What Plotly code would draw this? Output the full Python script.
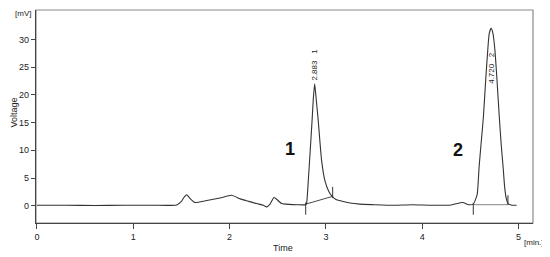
import plotly.graph_objects as go

# chromatogram trace (time in min, signal in mV)
time = [0.0, 0.3, 0.6, 0.9, 1.2, 1.45, 1.5, 1.53, 1.555, 1.58, 1.64, 1.75, 1.9, 2.02,
        2.11, 2.2, 2.28, 2.35, 2.385, 2.42, 2.46, 2.5, 2.54, 2.62, 2.70, 2.79,
        2.80, 2.815, 2.835, 2.855, 2.87, 2.883, 2.895, 2.92, 2.955, 2.99, 3.03,
        3.06, 3.10, 3.15, 3.25, 3.35, 3.5, 3.7, 3.9, 4.1, 4.3, 4.42, 4.48, 4.53,
        4.57, 4.59, 4.61, 4.635, 4.66, 4.68, 4.695, 4.715, 4.735, 4.755, 4.775,
        4.80, 4.82, 4.84, 4.855, 4.87, 4.89, 4.93, 4.98]
voltage = [0.1, 0.1, 0.05, 0.1, 0.1, 0.15, 0.8, 1.6, 2.0, 1.5, 0.6, 0.9, 1.4, 1.9,
           1.25, 0.8, 0.4, 0.1, -0.2, 0.3, 1.5, 1.0, 0.4, 0.25, 0.2, 0.2,
           0.5, 4.0, 9.4, 15.0, 19.5, 22.0, 20.0, 15.4, 8.2, 4.5, 2.6,
           1.8, 1.2, 0.9, 0.5, 0.3, 0.2, 0.1, 0.2, 0.1, 0.15, 0.6, 0.2, 0.3,
           2.0, 6.9, 11.0, 16.0, 23.0, 28.0, 31.0, 32.0, 31.0, 28.0, 23.0,
           16.0, 11.0, 6.9, 3.5, 1.5, 0.4, 0.1, 0.1]

# integration baselines and drop ticks
base1_t = [2.79, 3.07]
base1_v = [0.3, 1.7]
base2_t = [4.53, 4.89]
base2_v = [0.2, 0.2]
ticks_t = [2.79, 3.07, 4.53, 4.89]
ticks_lo = [-1.6, 1.4, -1.6, 0.2]
ticks_hi = [0.6, 3.4, 0.5, 1.9]

peak_rt = [2.883, 4.720]
peak_lbl = ["2.883   1", "4.720   2"]
peak_lbl_y = [25.4, 24.8]
peak_num = ["1", "2"]
peak_num_x = [2.63, 4.37]
peak_num_y = [10.3, 10.0]

line_col = "#333333"
fig = go.Figure()
fig.add_trace(go.Scatter(x=time, y=voltage, mode="lines",
                         line=dict(color=line_col, width=1.1, shape="spline", smoothing=0.5),
                         hoverinfo="skip"))
fig.add_trace(go.Scatter(x=base1_t, y=base1_v, mode="lines",
                         line=dict(color=line_col, width=0.9)))
fig.add_trace(go.Scatter(x=base2_t, y=base2_v, mode="lines",
                         line=dict(color="#666666", width=0.8)))
for t, lo, hi in zip(ticks_t, ticks_lo, ticks_hi):
    fig.add_trace(go.Scatter(x=[t, t], y=[lo, hi], mode="lines",
                             line=dict(color=line_col, width=1)))

for t, txt, y in zip(peak_rt, peak_lbl, peak_lbl_y):
    fig.add_annotation(x=t, y=y, text=txt, textangle=-90, showarrow=False,
                       font=dict(size=8, color="#222222"))
for txt, x, y in zip(peak_num, peak_num_x, peak_num_y):
    fig.add_annotation(x=x, y=y, text="<b>" + txt + "</b>", showarrow=False,
                       font=dict(size=18, color="#111111"))

# axis captions
fig.add_annotation(xref="paper", yref="paper", x=-0.006, y=1.012, text="[mV]",
                   showarrow=False, font=dict(size=8, color="#222222"),
                   xanchor="right", yanchor="top")
fig.add_annotation(xref="paper", yref="paper", x=-0.058, y=0.52, text="Voltage",
                   textangle=-90, showarrow=False, font=dict(size=9, color="#222222"))
fig.add_annotation(xref="paper", yref="paper", x=0.497, y=-0.085, text="Time",
                   showarrow=False, font=dict(size=9, color="#222222"), yanchor="top")
fig.add_annotation(xref="paper", yref="paper", x=0.978, y=-0.062, text="[min.]",
                   showarrow=False, font=dict(size=8, color="#222222"),
                   xanchor="left", yanchor="top")

# gray frame around the plot area
fig.add_shape(type="rect", xref="paper", yref="paper", x0=0, y0=0, x1=1, y1=1,
              line=dict(color="#8a8a8a", width=1.2), layer="below")

# the page body adds an 8px offset, so the figure is 8px smaller
fig.update_layout(
    width=542, height=249,
    margin=dict(l=28, r=17, t=2, b=34),
    paper_bgcolor="white", plot_bgcolor="white",
    showlegend=False,
    font=dict(family="Liberation Sans, Arial, sans-serif", size=9, color="#222222"),
)
fig.update_xaxes(range=[-0.01, 5.15], tickvals=[0, 1, 2, 3, 4, 5], showgrid=False,
                 zeroline=False, showline=True, linecolor="#444444", linewidth=1.2,
                 ticks="outside", ticklen=5, tickcolor="#444444", tickfont=dict(size=9))
fig.update_yaxes(range=[-3.1, 35.3], tickvals=[0, 5, 10, 15, 20, 25, 30], showgrid=False,
                 zeroline=False, showline=True, linecolor="#444444", linewidth=1.2,
                 ticks="outside", ticklen=4, tickcolor="#444444", tickfont=dict(size=9))

fig.write_html("out.html")
